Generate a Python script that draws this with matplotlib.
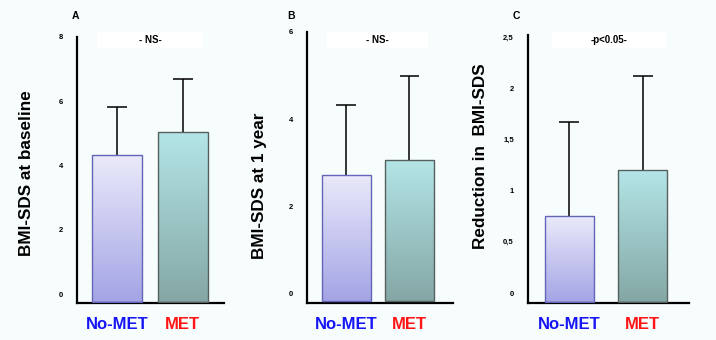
import matplotlib

matplotlib.use("Agg")
import matplotlib.pyplot as plt
import numpy as np
from matplotlib.patches import Rectangle
from matplotlib.colors import LinearSegmentedColormap

plt.rcParams["font.family"] = ["Liberation Sans", "DejaVu Sans"]

# data
groups = ["No-MET", "MET"]
group_colors = ["#1515f5", "#ff1515"]
panel_letters = ["A", "B", "C"]
ylabels = ["BMI-SDS at baseline", "BMI-SDS at 1 year", "Reduction in  BMI-SDS"]
sig_text = ["- NS-", "- NS-", "-p<0.05-"]
baseline_mean = [4.34, 5.04]
baseline_err = [1.47, 1.65]
year1_mean = [2.73, 3.07]
year1_err = [1.59, 1.91]
reduction_mean = [0.75, 1.20]
reduction_err = [0.92, 0.92]
yticks = [[0, 2, 4, 6, 8], [0, 2, 4, 6], [0, 0.5, 1, 1.5, 2, 2.5]]
ytick_labels = [["0", "2", "4", "6", "8"], ["0", "2", "4", "6"],
                ["0", "0,5", "1", "1,5", "2", "2,5"]]

# layout, measured in pixels from the reference (716x340)
axes_rect = [[0.1075, 0.1088, 0.2053, 0.7824],
             [0.4283, 0.1097, 0.2044, 0.7962],
             [0.7370, 0.1080, 0.2249, 0.7891]]
ylims = [(-0.27, 8.0), (-0.21, 6.0), (-0.10, 2.52)]
xlims = [(-0.61, 1.63), (-0.63, 1.69), (-0.57, 1.63)]
bar_w = [0.76, 0.77, 0.66]
cap_half = [0.153, 0.158, 0.136]
ylabel_xy = [(-0.342, 0.489), (-0.319, 0.431), (-0.296, 0.549)]
sig_box = [(0.136, 0.959, 0.721, 0.060), (0.139, 0.941, 0.690, 0.059),
           (0.151, 0.952, 0.708, 0.059)]
letter_x = [75, 291.5, 516]

BG = "#f7fdfd"
grad_cmaps = [LinearSegmentedColormap.from_list("nomet", ["#a4a4e6", "#eaeafa"]),
              LinearSegmentedColormap.from_list("met", ["#84a7a5", "#b4e5e7"])]
edge_colors = ["#6464b8", "#55605f"]

fig = plt.figure(figsize=(7.16, 3.40), dpi=100, facecolor=BG)
means = [baseline_mean, year1_mean, reduction_mean]
errs = [baseline_err, year1_err, reduction_err]
grad = np.linspace(0, 1, 256).reshape(-1, 1)

for i in range(3):
    ax = fig.add_axes(axes_rect[i])
    ax.set_facecolor(BG)
    x = np.arange(len(groups))
    m = np.array(means[i])
    top = m + np.array(errs[i])
    base = ylims[i][0] * 0.85
    bars = ax.bar(x, m - base, bottom=base, width=bar_w[i], facecolor="none",
                  edgecolor=edge_colors, lw=1.0, zorder=3)
    for b, cm in zip(bars, grad_cmaps):
        bx, by = b.get_x(), b.get_y()
        im = ax.imshow(grad, cmap=cm, origin="lower", aspect="auto",
                       extent=(bx, bx + b.get_width(), by, by + b.get_height()), zorder=2)
        im.set_clip_path(b)
    ax.set_xlim(*xlims[i])
    ax.set_ylim(*ylims[i])
    # upper-only error bars
    ax.vlines(x, m, top, color="black", lw=1.1, zorder=1)
    ax.hlines(top, x - cap_half[i], x + cap_half[i], color="black", lw=1.1, zorder=1)

    for s in ("top", "right"):
        ax.spines[s].set_visible(False)
    ax.spines["left"].set_linewidth(1.6)
    ax.spines["bottom"].set_linewidth(1.6)
    ax.set_yticks(yticks[i])
    ax.set_yticklabels(ytick_labels[i], fontsize=5.5, fontweight="bold")
    ax.tick_params(axis="y", length=0, pad=10)
    ax.set_xticks(x)
    ax.set_xticklabels(groups, fontsize=12, fontweight="bold")
    for t, c in zip(ax.get_xticklabels(), group_colors):
        t.set_color(c)
    ax.tick_params(axis="x", length=0, pad=10)

    ax.text(*ylabel_xy[i], ylabels[i], transform=ax.transAxes, rotation=90,
            ha="center", va="center", fontsize=12.3, fontweight="bold")
    bx, by, bw, bh = sig_box[i]
    ax.add_patch(Rectangle((bx, by), bw, bh, transform=ax.transAxes, facecolor="white",
                           edgecolor="none", clip_on=False, zorder=4))
    ax.text(bx + bw / 2, by + bh / 2, sig_text[i], transform=ax.transAxes, ha="center",
            va="center", fontsize=7, fontweight="bold", zorder=5)
    fig.text(letter_x[i] / 716, 1 - 16 / 340, panel_letters[i], ha="center", va="center",
             fontsize=7.5, fontweight="bold")

fig.savefig("out.png", dpi=100, facecolor=BG)
